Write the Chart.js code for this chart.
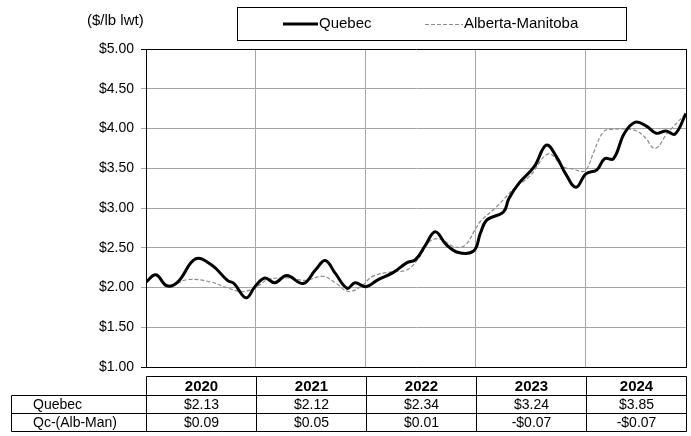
<!DOCTYPE html>
<html>
<head>
<meta charset="utf-8">
<script src="https://cdn.jsdelivr.net/npm/chart.js@4/dist/chart.umd.min.js"></script>
<style>
  html, body { margin: 0; padding: 0; background: #fff; }
  #wrap { width: 691px; height: 436px; position: relative; }
</style>
</head>
<body>
<div id="wrap"><canvas id="chart" width="691" height="436"></canvas></div>
<script>
// Precio semanal (lectura del gráfico), fechas en años decimales
const quebecDates = [2020.00, 2020.09, 2020.19, 2020.29, 2020.45, 2020.60, 2020.74, 2020.80, 2020.91, 2020.99,
  2021.08, 2021.17, 2021.28, 2021.43, 2021.54, 2021.63, 2021.72, 2021.83, 2021.90, 2022.00,
  2022.10, 2022.25, 2022.37, 2022.45, 2022.54, 2022.63, 2022.73, 2022.84, 2022.98, 2023.04,
  2023.10, 2023.25, 2023.30, 2023.39, 2023.53, 2023.64, 2023.73, 2023.82, 2023.91, 2024.00,
  2024.10, 2024.17, 2024.25, 2024.35, 2024.45, 2024.55, 2024.64, 2024.73, 2024.81, 2024.91];
const quebecValues = [2.07, 2.16, 2.02, 2.07, 2.36, 2.28, 2.09, 2.05, 1.87, 2.01,
  2.12, 2.06, 2.15, 2.05, 2.22, 2.34, 2.18, 1.99, 2.06, 2.01,
  2.09, 2.19, 2.31, 2.35, 2.53, 2.70, 2.54, 2.44, 2.46, 2.68,
  2.85, 2.95, 3.12, 3.31, 3.52, 3.79, 3.65, 3.42, 3.26, 3.43,
  3.48, 3.62, 3.62, 3.94, 4.08, 4.03, 3.94, 3.97, 3.93, 4.19];

const albertaDates = [2020.00, 2020.09, 2020.21, 2020.38, 2020.59, 2020.71, 2020.86, 2020.95, 2021.03, 2021.11,
  2021.29, 2021.45, 2021.61, 2021.73, 2021.84, 2021.96, 2022.06, 2022.25, 2022.37, 2022.47,
  2022.58, 2022.67, 2022.81, 2022.90, 2022.99, 2023.04, 2023.19, 2023.36, 2023.49, 2023.66,
  2023.79, 2023.88, 2023.98, 2024.02, 2024.07, 2024.16, 2024.24, 2024.44, 2024.53, 2024.63,
  2024.74, 2024.91];
const albertaValues = [2.07, 2.14, 2.03, 2.10, 2.07, 2.01, 1.95, 1.97, 2.03, 2.10,
  2.12, 2.09, 2.14, 2.05, 1.95, 2.02, 2.14, 2.20, 2.22, 2.35,
  2.58, 2.61, 2.51, 2.53, 2.72, 2.83, 3.02, 3.26, 3.40, 3.68,
  3.52, 3.49, 3.46, 3.52, 3.70, 3.96, 3.99, 3.98, 3.90, 3.75,
  3.94, 4.19];

// Tabla de promedios anuales
const tableYears = ['2020', '2021', '2022', '2023', '2024'];
const quebecAvg = ['$2.13', '$2.12', '$2.34', '$3.24', '$3.85'];
const diffAvg = ['$0.09', '$0.05', '$0.01', '-$0.07', '-$0.07'];

const yTicks = [1, 1.5, 2, 2.5, 3, 3.5, 4, 4.5, 5];

const FONT = '"Liberation Sans", Arial, sans-serif';
Chart.defaults.font.family = FONT;
Chart.defaults.color = '#000';

const toPoints = (dates, values) => dates.map((d, i) => ({ x: d, y: values[i] }));

// Leyenda, unidad y tabla dibujadas a mano
const extrasPlugin = {
  id: 'extras',
  afterDraw(chart) {
    const ctx = chart.ctx;
    const x = chart.scales.x;
    ctx.save();

    // unidad
    ctx.font = '15px ' + FONT;
    ctx.fillStyle = '#000';
    ctx.textAlign = 'left';
    ctx.textBaseline = 'middle';
    ctx.fillText('($/lb lwt)', 87, 21);

    // leyenda
    ctx.strokeStyle = '#000';
    ctx.lineWidth = 1;
    ctx.strokeRect(237.5, 7.5, 389, 33);
    const ds = chart.data.datasets;
    ctx.beginPath();
    ctx.lineWidth = ds[0].borderWidth;
    ctx.strokeStyle = ds[0].borderColor;
    ctx.moveTo(283, 24); ctx.lineTo(318, 24);
    ctx.stroke();
    ctx.fillText(ds[0].label, 319, 24);
    ctx.beginPath();
    ctx.lineWidth = ds[1].borderWidth;
    ctx.strokeStyle = ds[1].borderColor;
    ctx.setLineDash(ds[1].borderDash);
    ctx.moveTo(425, 24.5); ctx.lineTo(463, 24.5);
    ctx.stroke();
    ctx.setLineDash([]);
    ctx.fillStyle = '#000';
    ctx.fillText(ds[1].label, 464, 24);

    // tabla
    const edges = tableYears.map(y => Math.round(x.getPixelForValue(Number(y))) + 0.5);
    edges.push(Math.round(x.right) + 0.5);
    const rows = [376.5, 395.5, 413.5, 431.5];
    const labelLeft = 11.5;
    ctx.strokeStyle = '#000';
    ctx.lineWidth = 1;
    ctx.beginPath();
    ctx.moveTo(edges[0], rows[0]); ctx.lineTo(edges[edges.length - 1], rows[0]);
    for (let r = 1; r < rows.length; r++) {
      ctx.moveTo(labelLeft, rows[r]); ctx.lineTo(edges[edges.length - 1], rows[r]);
    }
    ctx.moveTo(labelLeft, rows[1]); ctx.lineTo(labelLeft, rows[3]);
    edges.forEach(e => { ctx.moveTo(e, rows[0]); ctx.lineTo(e, rows[3]); });
    ctx.stroke();

    ctx.textBaseline = 'middle';
    ctx.textAlign = 'center';
    for (let i = 0; i < tableYears.length; i++) {
      const cx = (edges[i] + edges[i + 1]) / 2;
      ctx.font = 'bold 15px ' + FONT;
      ctx.fillText(tableYears[i], cx, (rows[0] + rows[1]) / 2 + 1);
      ctx.font = '14px ' + FONT;
      ctx.fillText(quebecAvg[i], cx, (rows[1] + rows[2]) / 2 + 1);
      ctx.fillText(diffAvg[i], cx, (rows[2] + rows[3]) / 2 + 1);
    }
    ctx.textAlign = 'left';
    ctx.font = '14px ' + FONT;
    ctx.fillText('Quebec', 33, (rows[1] + rows[2]) / 2 + 1);
    ctx.fillText('Qc-(Alb-Man)', 33, (rows[2] + rows[3]) / 2 + 1);

    ctx.restore();
  }
};

new Chart(document.getElementById('chart'), {
  type: 'line',
  data: {
    datasets: [{
      label: 'Quebec',
      data: toPoints(quebecDates, quebecValues),
      borderColor: '#000',
      borderWidth: 3,
      pointRadius: 0,
      tension: 0.4,
      fill: false
    }, {
      label: 'Alberta-Manitoba',
      data: toPoints(albertaDates, albertaValues),
      borderColor: '#8c8c8c',
      borderWidth: 1.2,
      borderDash: [4, 2],
      pointRadius: 0,
      tension: 0.4,
      fill: false
    }]
  },
  options: {
    responsive: false,
    animation: false,
    layout: { padding: { top: 49, right: 5, bottom: 69, left: 0 } },
    plugins: { legend: { display: false }, tooltip: { enabled: false } },
    scales: {
      x: {
        type: 'linear',
        min: 2020,
        max: 2024.91,
        ticks: { stepSize: 1, display: false },
        grid: {
          drawTicks: false,
          color: ctx => (ctx.tick && ctx.tick.value > 2020 && ctx.tick.value < 2024.9) ? '#a6a6a6' : '#000',
          lineWidth: 1
        },
        border: { color: '#000', width: 1 },
        afterFit(scale) { scale.height = 0; }
      },
      y: {
        min: 1,
        max: 5,
        afterBuildTicks(scale) { scale.ticks = yTicks.map(v => ({ value: v })); },
        ticks: {
          font: { size: 14 },
          padding: 7,
          callback: v => '$' + Number(v).toFixed(2)
        },
        grid: {
          tickLength: 5,
          color: ctx => (ctx.tick && (ctx.tick.value === 5 || ctx.tick.value === 1)) ? '#000' : '#a6a6a6',
          lineWidth: 1
        },
        border: { color: '#000', width: 1 },
        afterFit(scale) { scale.width = 146; }
      }
    }
  },
  plugins: [extrasPlugin]
});
</script>
</body>
</html>
